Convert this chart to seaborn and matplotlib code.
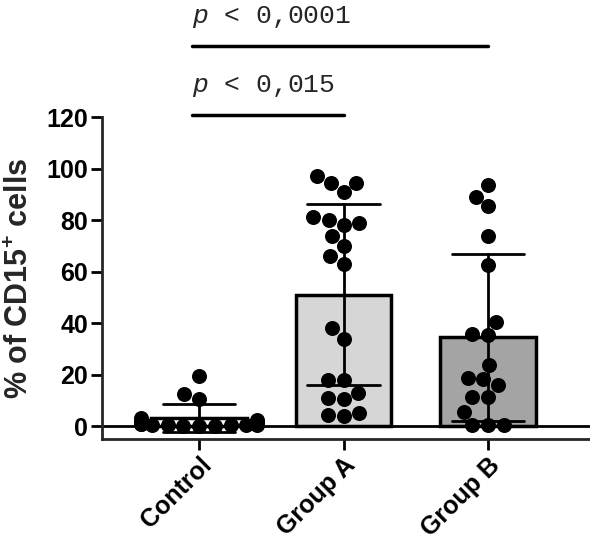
import pandas as pd
import matplotlib.pyplot as plt
import seaborn as sns

# values (% of CD15+ cells)
control = [19.4, 12.4, 10.5, 3.0, 2.5, 2.0, 1.5, 1.0, 1.0, 0.8, 0.5, 0.5, 0.4, 0.3, 0.3, 0.2, 0.1, 0.0]
group_a = [97, 91, 94.4, 94.4, 80, 81, 74, 66, 78, 70, 63, 79, 38, 34, 18, 18, 13, 10.5, 4, 5, 4.3, 11]
group_b = [93.6, 89, 85.4, 73.8, 62.5, 40.4, 35.3, 35.7, 23.7, 18.3, 18.6, 15.9, 11.3, 11.3, 5.4, 0.4, 0.4, 0.4]
groups = ['Control', 'Group A', 'Group B']
bar_colors = ['white', '#d6d6d6', '#a4a4a4']
p_texts = ['0,015', '0,0001']

df = pd.DataFrame({
    'group': ['Control'] * len(control) + ['Group A'] * len(group_a) + ['Group B'] * len(group_b),
    'value': control + group_a + group_b,
})

sns.set_style('ticks')
plt.rcParams['font.family'] = ['Liberation Sans', 'DejaVu Sans']
plt.rcParams['mathtext.fontset'] = 'custom'
plt.rcParams['mathtext.bf'] = 'Liberation Sans:bold'
plt.rcParams['mathtext.it'] = 'Liberation Mono:italic'
plt.rcParams['mathtext.default'] = 'bf'

fig = plt.figure(figsize=(5.9, 5.43), dpi=100)
ax = fig.add_axes([0.173, 0.1915, 0.827, 0.593])

# bars with mean +/- SD
sns.barplot(data=df, x='group', y='value', order=groups, hue='group', palette=bar_colors,
            errorbar='sd', capsize=0.5, width=0.66, edgecolor='black', linewidth=2.5,
            err_kws={'color': 'black', 'linewidth': 2}, legend=False, ax=ax)

# individual points
sns.swarmplot(data=df, x='group', y='value', order=groups, color='black', size=10.8,
              ax=ax, zorder=5, warn_thresh=1)

ax.axhline(0, color='black', lw=2, zorder=1)
ax.set_xlim(-0.671, 2.706)
ax.set_ylim(-5, 120)
ax.set_yticks(range(0, 121, 20))

ax.spines['top'].set_visible(False)
ax.spines['right'].set_visible(False)
ax.spines['left'].set_bounds(-5, 120)
for s in ['left', 'bottom']:
    ax.spines[s].set_linewidth(2)
ax.tick_params(width=2, length=8, pad=2, labelsize=18, colors='black')
for lab in ax.get_yticklabels():
    lab.set_fontweight('bold')
ax.set_xticks(range(3))
ax.set_xticklabels(groups, rotation=45, ha='right', rotation_mode='anchor', fontweight='bold')

ax.set_xlabel('')
ax.set_ylabel('% of CD15$^{+}$ cells', fontsize=22, fontweight='bold', labelpad=8)

# significance bars
for right, ybar, p in [(1.0, 120.8, p_texts[0]), (2.0, 147.6, p_texts[1])]:
    ax.plot([-0.05, right], [ybar, ybar], color='black', lw=2.5, clip_on=False)
    ax.text(-0.05, ybar + 6, r'$\mathit{p}$ < ' + p, family='Liberation Mono', fontsize=19,
            va='bottom', ha='left')

fig.savefig('out.png', dpi=100)
